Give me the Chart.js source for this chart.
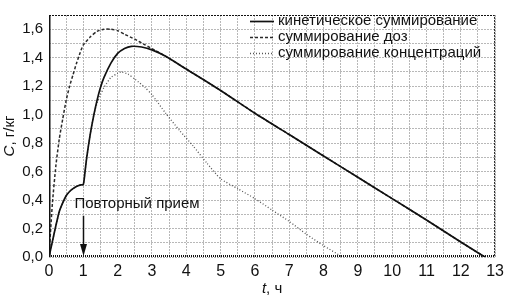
<!DOCTYPE html>
<html>
<head>
<meta charset="utf-8">
<script src="https://cdn.jsdelivr.net/npm/chart.js@4"></script>
<style>
  body { margin: 0; background: #fff; }
  canvas { display: block; }
</style>
</head>
<body>
<canvas id="grafico" width="509" height="304"></canvas>
<script>
// Данные
const rotulos = ['кинетическое суммирование', 'суммирование доз', 'суммирование концентраций'];

const tempoKin = [0, 0.1, 0.2, 0.3, 0.4, 0.5, 0.6, 0.7, 0.8, 0.9, 1.0, 1.05, 1.1, 1.2, 1.3, 1.4, 1.5, 1.6, 1.8, 2.0, 2.2, 2.4, 2.7, 3.0, 3.4, 4, 5, 6, 7, 8, 9, 10, 11, 12, 12.7];
const concKin  = [0, 0.11, 0.22, 0.32, 0.38, 0.43, 0.46, 0.48, 0.495, 0.505, 0.51, 0.6, 0.7, 0.86, 0.99, 1.1, 1.19, 1.26, 1.36, 1.43, 1.465, 1.48, 1.475, 1.455, 1.41, 1.32, 1.17, 1.01, 0.86, 0.71, 0.56, 0.41, 0.26, 0.105, 0];

const tempoDoz = [0, 0.05, 0.1, 0.2, 0.3, 0.4, 0.5, 0.6, 0.7, 0.8, 0.9, 1.0, 1.2, 1.4, 1.6, 1.8, 2.0, 2.2, 2.5, 2.8, 3.1, 3.4, 4, 5, 6, 7, 8, 9, 10, 11, 12, 12.7];
const concDoz  = [0, 0.2, 0.38, 0.64, 0.83, 0.97, 1.1, 1.2, 1.28, 1.36, 1.43, 1.49, 1.545, 1.585, 1.6, 1.6, 1.59, 1.565, 1.53, 1.49, 1.45, 1.41, 1.32, 1.17, 1.01, 0.86, 0.71, 0.56, 0.41, 0.26, 0.105, 0];

const tempoCon = [0, 0.1, 0.2, 0.3, 0.4, 0.5, 0.6, 0.7, 0.8, 0.9, 1.0, 1.05, 1.1, 1.2, 1.3, 1.4, 1.5, 1.6, 1.8, 2.0, 2.1, 2.3, 2.5, 2.8, 3.0, 3.4, 3.8, 4.2, 4.6, 5.0, 5.5, 6, 6.5, 7, 7.5, 8, 8.55];
const concCon  = [0, 0.11, 0.22, 0.32, 0.38, 0.43, 0.46, 0.48, 0.495, 0.505, 0.51, 0.6, 0.7, 0.86, 0.99, 1.08, 1.14, 1.19, 1.26, 1.29, 1.30, 1.285, 1.25, 1.19, 1.14, 1.01, 0.89, 0.78, 0.66, 0.55, 0.48, 0.41, 0.33, 0.25, 0.16, 0.08, 0];

const fonte = '"Liberation Sans", Arial, sans-serif';

function pontos(t, c) {
    return t.map((v, i) => ({ x: v, y: c[i] }));
}

// --- Moldura, legenda, anotação e títulos ---
const extras = {
    id: 'extras',
    afterDatasetsDraw(chart) {
        const ctx = chart.ctx;
        const a = chart.chartArea;
        const sx = chart.scales.x, sy = chart.scales.y;

        // moldura
        ctx.save();
        ctx.strokeStyle = '#111';
        ctx.lineWidth = 1;
        ctx.setLineDash([2, 1]);
        ctx.beginPath();
        ctx.moveTo(a.left, a.top + 0.5);
        ctx.lineTo(a.right - 0.5, a.top + 0.5);
        ctx.lineTo(a.right - 0.5, a.bottom);
        ctx.stroke();
        // eixo inferior pontilhado
        ctx.lineWidth = 2;
        ctx.setLineDash([1, 1]);
        ctx.beginPath();
        ctx.moveTo(a.left, a.bottom - 1);
        ctx.lineTo(a.right, a.bottom - 1);
        ctx.stroke();
        // eixo esquerdo
        ctx.setLineDash([]);
        ctx.lineWidth = 1.5;
        ctx.beginPath();
        ctx.moveTo(a.left + 0.75, a.top);
        ctx.lineTo(a.left + 0.75, a.bottom);
        ctx.stroke();
        ctx.restore();

        // legenda
        ctx.save();
        ctx.font = '15px ' + fonte;
        ctx.textBaseline = 'middle';
        chart.data.datasets.forEach((ds, i) => {
            const y = 21 + i * 16;
            ctx.strokeStyle = ds.borderColor;
            ctx.lineWidth = ds.borderWidth;
            ctx.setLineDash(ds.borderDash || []);
            ctx.beginPath();
            ctx.moveTo(250, y + 0.5);
            ctx.lineTo(274, y + 0.5);
            ctx.stroke();
            ctx.fillStyle = '#111';
            ctx.fillText(ds.label, 278, y);
        });
        ctx.restore();

        // "Повторный прием" + seta
        ctx.save();
        ctx.font = '15px ' + fonte;
        ctx.fillStyle = '#111';
        ctx.textBaseline = 'middle';
        ctx.fillText('Повторный прием', sx.getPixelForValue(0.74), sy.getPixelForValue(0.375));
        const xs = Math.round(sx.getPixelForValue(1)) + 0.5;
        const y0 = sy.getPixelForValue(0.29), y1 = sy.getPixelForValue(0) - 1;
        ctx.strokeStyle = '#111';
        ctx.lineWidth = 1.5;
        ctx.beginPath();
        ctx.moveTo(xs, y0);
        ctx.lineTo(xs, y1 - 8);
        ctx.stroke();
        ctx.beginPath();
        ctx.moveTo(xs - 3.5, y1 - 12);
        ctx.lineTo(xs + 3.5, y1 - 12);
        ctx.lineTo(xs, y1);
        ctx.closePath();
        ctx.fill();
        ctx.restore();

        // títulos dos eixos
        ctx.save();
        ctx.fillStyle = '#111';
        ctx.textBaseline = 'middle';
        const meioX = (a.left + a.right) / 2;
        ctx.font = 'italic 15px ' + fonte;
        const wt = ctx.measureText('t').width;
        ctx.font = '15px ' + fonte;
        const wr = ctx.measureText(', ч').width;
        let x0 = meioX - (wt + wr) / 2;
        ctx.font = 'italic 15px ' + fonte;
        ctx.fillText('t', x0, 289);
        ctx.font = '15px ' + fonte;
        ctx.fillText(', ч', x0 + wt, 289);

        ctx.translate(10, (a.top + a.bottom) / 2);
        ctx.rotate(-Math.PI / 2);
        ctx.font = 'italic 15px ' + fonte;
        const wc = ctx.measureText('C').width;
        ctx.font = '15px ' + fonte;
        const wk = ctx.measureText(', г/кг').width;
        x0 = -(wc + wk) / 2;
        ctx.font = 'italic 15px ' + fonte;
        ctx.fillText('C', x0, 0);
        ctx.font = '15px ' + fonte;
        ctx.fillText(', г/кг', x0 + wc, 0);
        ctx.restore();
    }
};

new Chart(document.getElementById('grafico').getContext('2d'), {
    type: 'line',
    data: {
        datasets: [
            {
                label: rotulos[0],
                data: pontos(tempoKin, concKin),
                borderColor: '#111',
                borderWidth: 1.7,
                pointRadius: 0,
                tension: 0.2
            },
            {
                label: rotulos[1],
                data: pontos(tempoDoz, concDoz),
                borderColor: '#2a2a2a',
                borderWidth: 1.5,
                borderDash: [3, 2],
                pointRadius: 0,
                tension: 0.2
            },
            {
                label: rotulos[2],
                data: pontos(tempoCon, concCon),
                borderColor: '#555',
                borderWidth: 1.3,
                borderDash: [1, 2],
                pointRadius: 0,
                tension: 0.2
            }
        ]
    },
    options: {
        responsive: false,
        animation: false,
        layout: { padding: { left: 0, top: 1, right: 8, bottom: 0 } },
        plugins: {
            legend: { display: false },
            tooltip: { enabled: false }
        },
        scales: {
            x: {
                type: 'linear',
                min: 0,
                max: 13,
                afterFit: s => { s.height = 47; },
                grid: { color: '#b8b8b8', lineWidth: 1, drawTicks: false },
                border: { display: false, dash: [2, 1] },
                ticks: {
                    stepSize: 0.5,
                    autoSkip: false,
                    maxRotation: 0,
                    padding: 5,
                    color: '#111',
                    font: { family: fonte, size: 16 },
                    callback: v => (Math.abs(v - Math.round(v)) < 1e-6 ? String(Math.round(v)) : '')
                }
            },
            y: {
                min: 0,
                max: 1.7,
                afterFit: s => { s.width = 49; },
                grid: { color: '#b8b8b8', lineWidth: 1, drawTicks: false },
                border: { display: false, dash: [2, 1] },
                ticks: {
                    stepSize: 0.1,
                    autoSkip: false,
                    padding: 6,
                    color: '#111',
                    font: { family: fonte, size: 15 },
                    callback: v => {
                        const d = Math.round(v * 10);
                        return d % 2 === 0 && d < 17 ? (d / 10).toFixed(1).replace('.', ',') : '';
                    }
                }
            }
        }
    },
    plugins: [extras]
});
</script>
</body>
</html>
